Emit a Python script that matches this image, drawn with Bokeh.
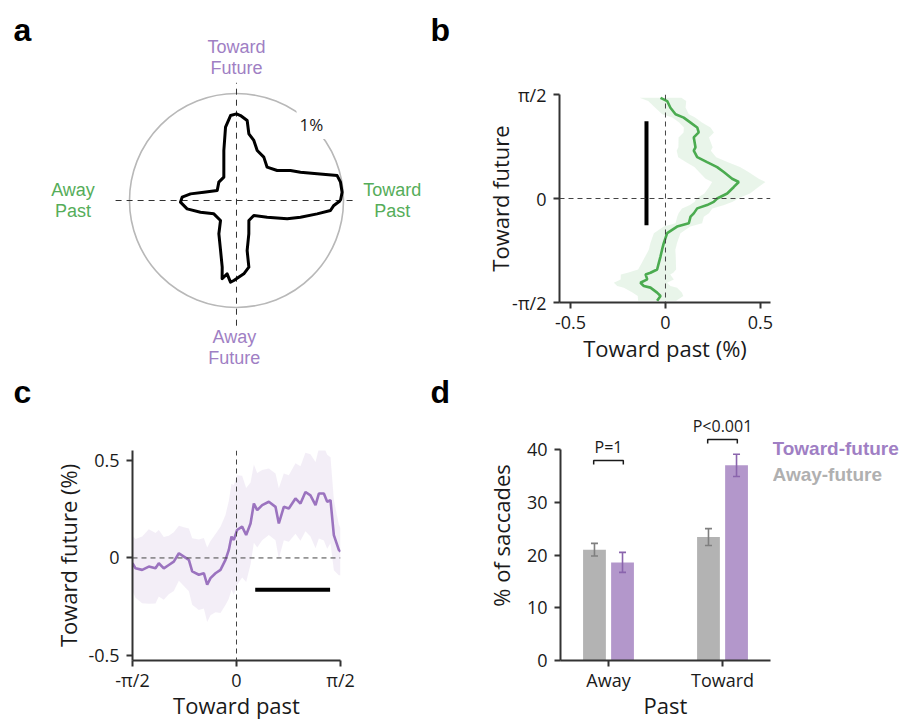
import math
from bokeh.plotting import figure
from bokeh.layouts import column, row
from bokeh.models import Range1d, FixedTicker, ColumnDataSource, Span
from bokeh.core.properties import value
from bokeh.embed import file_html
from bokeh.resources import INLINE

# ---------------- data ----------------
# panel a: polar distribution of saccade directions (% per bin)
rose_angle_deg = [0, 4.5, 10.0, 13.9, 18.3, 23.9, 29.1, 36.4, 47.4, 57.8, 67.5, 73.9, 79.5, 82.4,
                  87.3, 90, 94.0, 98.5, 104.2, 118.5, 133.9, 152.6, 165.7, 171.8, 176.5, 181.7,
                  189.6, 198, 210.5, 231.3, 242.1, 252.3, 257.9, 259.6, 262.7, 265.8, 268.1,
                  275.7, 280.5, 282, 290.3, 301.7, 319.1, 331.5, 340.1, 345.4, 350.6, 353.9, 357.1]
rose_radius_pct = [0.972, 0.99, 0.987, 0.969, 0.794, 0.654, 0.577, 0.472, 0.423, 0.479, 0.506, 0.584,
                   0.634, 0.754, 0.795, 0.81, 0.796, 0.693, 0.482, 0.248, 0.238, 0.203, 0.315, 0.434,
                   0.509, 0.524, 0.468, 0.354, 0.246, 0.239, 0.352, 0.49, 0.637, 0.744, 0.691, 0.765,
                   0.748, 0.689, 0.634, 0.478, 0.332, 0.22, 0.214, 0.326, 0.504, 0.618, 0.764, 0.883, 0.911]
rose_ref_circle_pct = 1.0

# panel b: toward-past difference vs future angle (angle in units of pi/2)
b_angle = [0.968, 0.937, 0.873, 0.81, 0.778, 0.730, 0.683, 0.635, 0.587, 0.492, 0.460, 0.397, 0.349,
           0.302, 0.254, 0.190, 0.159, 0.111, 0.048, 0.0, -0.032, -0.063, -0.095, -0.143, -0.175,
           -0.238, -0.270, -0.333, -0.381, -0.429, -0.492, -0.556, -0.619, -0.683, -0.714, -0.730,
           -0.778, -0.810, -0.841, -0.857, -0.905, -0.937, -0.984]
b_value = [-0.026, 0.009, 0.026, 0.053, 0.096, 0.132, 0.167, 0.175, 0.149, 0.158, 0.149, 0.167, 0.219,
           0.272, 0.307, 0.351, 0.386, 0.360, 0.325, 0.272, 0.254, 0.219, 0.167, 0.149, 0.132,
           0.123, 0.061, 0.009, 0.0, -0.009, -0.018, -0.026, -0.035, -0.044, -0.079, -0.105,
           -0.096, -0.132, -0.114, -0.079, -0.044, -0.026, -0.044]
b_sem = [0.11, 0.10, 0.08, 0.07, 0.06, 0.06, 0.07, 0.08, 0.08, 0.09, 0.09, 0.10, 0.11,
         0.12, 0.13, 0.14, 0.14, 0.13, 0.12, 0.11, 0.10, 0.09, 0.08, 0.08, 0.07,
         0.07, 0.07, 0.07, 0.07, 0.07, 0.07, 0.08, 0.09, 0.10, 0.12, 0.13,
         0.14, 0.14, 0.14, 0.14, 0.13, 0.12, 0.10]
b_sig_x = -0.1
b_sig_span = [-0.257, 0.743]

# panel c: toward-future difference vs past angle (angle in units of pi/2)
c_angle = [-1.0, -0.971, -0.907, -0.843, -0.779, -0.747, -0.699, -0.651, -0.603, -0.554, -0.506, -0.458,
           -0.426, -0.362, -0.314, -0.282, -0.25, -0.202, -0.154, -0.106, -0.074, -0.048, -0.026,
           0.006, 0.054, 0.093, 0.135, 0.167, 0.199, 0.247, 0.311, 0.375, 0.407, 0.455, 0.503,
           0.567, 0.615, 0.663, 0.711, 0.760, 0.792, 0.840, 0.872, 0.904, 0.936, 0.984, 1.0]
c_value = [-0.027, -0.053, -0.061, -0.044, -0.053, -0.027, -0.053, -0.036, -0.019, 0.024, 0.007, -0.010,
           -0.069, -0.086, -0.078, -0.137, -0.103, -0.078, -0.061, -0.010, 0.041, 0.109, 0.092,
           0.143, 0.16, 0.117, 0.176, 0.278, 0.244, 0.270, 0.287, 0.261, 0.176, 0.261, 0.253,
           0.304, 0.278, 0.337, 0.320, 0.270, 0.329, 0.329, 0.287, 0.295, 0.117, 0.041, 0.032]
c_sem = [0.14, 0.15, 0.17, 0.19, 0.18, 0.17, 0.16, 0.15, 0.15, 0.14, 0.15, 0.16,
         0.17, 0.18, 0.18, 0.19, 0.19, 0.20, 0.22, 0.23, 0.25, 0.27, 0.28,
         0.28, 0.26, 0.24, 0.21, 0.20, 0.19, 0.18, 0.17, 0.17, 0.18, 0.17, 0.17,
         0.18, 0.19, 0.20, 0.21, 0.22, 0.23, 0.24, 0.24, 0.22, 0.18, 0.13, 0.12]
c_sig_y = -0.163
c_sig_span = [0.18, 0.90]

# panel d: % of saccades
d_categories = ["Away", "Toward"]
d_away_future = [21.0, 23.4]
d_away_future_err = [1.2, 1.6]
d_toward_future = [18.6, 37.0]
d_toward_future_err = [1.9, 2.1]
d_pvalues = ["P=1", "P<0.001"]
d_yticks = [0, 10, 20, 30, 40]
d_series = ["Toward-future", "Away-future"]

# ---------------- style ----------------
AXIS_FONT = "Open Sans"
LAB_FONT = "Liberation Sans"
PURPLE_TXT = "#a07fc4"
GREEN_TXT = "#55ad59"
GREEN = "#4bab50"
PURPLE = "#9b73bf"
BAR_PURPLE = "#b397cb"
BAR_GRAY = "#b3b3b3"
ERR_PURPLE = "#8a64ad"
ERR_GRAY = "#7f7f7f"
INK = "#1a1a1a"


def base_fig(**kw):
    p = figure(output_backend="svg", toolbar_location=None, frame_align=False, **kw)
    p.grid.visible = False
    p.outline_line_color = None
    p.background_fill_color = "white"
    p.border_fill_color = "white"
    return p


def style_axes(p, xlabel, ylabel, ylab_standoff, xtick_standoff=1, xlab_standoff=-5):
    for ax in p.axis:
        ax.axis_line_color = "#333333"
        ax.axis_line_width = 2
        ax.major_tick_line_color = "#333333"
        ax.major_tick_line_width = 2
        ax.major_tick_out = 6
        ax.major_tick_in = 0
        ax.minor_tick_line_color = None
        ax.major_label_text_font = AXIS_FONT
        ax.major_label_text_font_size = "18px"
        ax.major_label_text_color = INK
        ax.axis_label_text_font = AXIS_FONT
        ax.axis_label_text_font_size = "22px"
        ax.axis_label_text_font_style = "normal"
        ax.axis_label_text_color = INK
    p.xaxis.axis_label = xlabel
    p.yaxis.axis_label = ylabel
    p.xaxis.major_label_standoff = xtick_standoff
    p.yaxis.major_label_standoff = 7
    p.xaxis.axis_label_standoff = xlab_standoff
    p.yaxis.axis_label_standoff = ylab_standoff


# ---------------- panel a ----------------
pa = base_fig(width=460, height=370, x_range=Range1d(-2.2056, 2.0935), y_range=Range1d(-1.5888, 1.8692),
              x_axis_location=None, y_axis_location=None, min_border=0)
pa.circle(x=[0], y=[0], radius=rose_ref_circle_pct, fill_color=None, line_color="#b8b8b8", line_width=1.6)
pa.segment(x0=[-1.13, 0], y0=[0, -1.17], x1=[1.12, 0], y1=[0, 1.10], line_color="#333333",
           line_width=1, line_dash="6 5")
ang = rose_angle_deg + [rose_angle_deg[0]]
rad = rose_radius_pct + [rose_radius_pct[0]]
rx = [r * math.cos(math.radians(a)) for a, r in zip(ang, rad)]
ry = [r * math.sin(math.radians(a)) for a, r in zip(ang, rad)]
pa.line(rx, ry, line_color="black", line_width=3, line_join="round")
pa.text(x=[0, -0.02, -1.528, 1.455], y=[1.332, -1.374, 0.0, 0.0],
        text=["Toward\nFuture", "Away\nFuture", "Away\nPast", "Toward\nPast"],
        text_color=[PURPLE_TXT, PURPLE_TXT, GREEN_TXT, GREEN_TXT],
        text_font=value(LAB_FONT), text_font_size="18px", text_align="center",
        text_baseline="middle", text_line_height=1.05)
pa.text(x=[0.70], y=[0.71], text=["1%"], text_font=value(AXIS_FONT), text_font_size="17px",
        text_align="center", text_baseline="middle", text_color=INK,
        background_fill_color="white", padding=3)
pa.text(x=[-2.084, 1.813], y=[1.598, 1.598], text=["a", "b"], text_font=value(LAB_FONT),
        text_font_size="32px", text_font_style="bold", text_color="black", text_baseline="middle")

# ---------------- panel b ----------------
pb = base_fig(width=450, height=370, x_range=Range1d(-0.558, 0.553), y_range=Range1d(-1, 1),
              min_border_left=99, min_border_right=140, min_border_top=94, min_border_bottom=68)
style_axes(pb, "Toward past (%)", "Toward future", -6, xtick_standoff=7, xlab_standoff=1)
pb.xaxis.ticker = FixedTicker(ticks=[-0.5, 0, 0.5])
pb.xaxis.major_label_overrides = {-0.5: "-0.5", 0: "0", 0.5: "0.5"}
pb.yaxis.ticker = FixedTicker(ticks=[-1, 0, 1])
pb.yaxis.major_label_overrides = {-1: "-π/2", 0: "0", 1: "π/2"}
b_src = ColumnDataSource(dict(y=b_angle, x=b_value,
                              lo=[v - s for v, s in zip(b_value, b_sem)],
                              hi=[v + s for v, s in zip(b_value, b_sem)]))
pb.harea(y="y", x1="lo", x2="hi", source=b_src, fill_color=GREEN, fill_alpha=0.12)
pb.add_layout(Span(location=0, dimension="height", line_color="#444444", line_width=1, line_dash="5 4"))
pb.add_layout(Span(location=0, dimension="width", line_color="#444444", line_width=1, line_dash="5 4"))
pb.line(x="x", y="y", source=b_src, line_color=GREEN, line_width=2.6)
pb.segment(x0=[b_sig_x], y0=[b_sig_span[0]], x1=[b_sig_x], y1=[b_sig_span[1]], line_color="black",
           line_width=4)

# ---------------- letters strip ----------------
ps = base_fig(width=910, height=40, x_range=Range1d(0, 910), y_range=Range1d(0, 40),
              x_axis_location=None, y_axis_location=None, min_border=0)
ps.text(x=[13, 430], y=[19, 19], text=["c", "d"], text_font=value(LAB_FONT), text_font_size="32px",
        text_font_style="bold", text_color="black", text_baseline="middle")

# ---------------- panel c ----------------
pc = base_fig(width=460, height=312, x_range=Range1d(-1, 1), y_range=Range1d(-0.524, 0.549),
              min_border_left=132, min_border_right=120, min_border_top=40, min_border_bottom=61)
style_axes(pc, "Toward past", "Toward future (%)", 2)
pc.xaxis.ticker = FixedTicker(ticks=[-1, 0, 1])
pc.xaxis.major_label_overrides = {-1: "-π/2", 0: "0", 1: "π/2"}
pc.yaxis.ticker = FixedTicker(ticks=[-0.5, 0, 0.5])
pc.yaxis.major_label_overrides = {-0.5: "-0.5", 0: "0", 0.5: "0.5"}
c_src = ColumnDataSource(dict(x=c_angle, y=c_value,
                              lo=[v - s for v, s in zip(c_value, c_sem)],
                              hi=[v + s for v, s in zip(c_value, c_sem)]))
pc.varea(x="x", y1="lo", y2="hi", source=c_src, fill_color=PURPLE, fill_alpha=0.12)
pc.add_layout(Span(location=0, dimension="height", line_color="#444444", line_width=1, line_dash="5 4"))
pc.add_layout(Span(location=0, dimension="width", line_color="#444444", line_width=1, line_dash="5 4"))
pc.line(x="x", y="y", source=c_src, line_color=PURPLE, line_width=2.6)
pc.segment(x0=[c_sig_span[0]], y0=[c_sig_y], x1=[c_sig_span[1]], y1=[c_sig_y], line_color="black",
           line_width=4)

# ---------------- panel d ----------------
pd_ = base_fig(width=312, height=312, x_range=Range1d(-0.421, 1.421), y_range=Range1d(0, 47.4),
               min_border_left=100, min_border_right=2, min_border_top=0, min_border_bottom=61)
style_axes(pd_, "Past", "% of saccades", 8)
pd_.yaxis.bounds = (0, 40)
pd_.xaxis.ticker = FixedTicker(ticks=list(range(len(d_categories))))
pd_.xaxis.major_label_overrides = {i: c for i, c in enumerate(d_categories)}
pd_.yaxis.ticker = FixedTicker(ticks=d_yticks)

off = 0.123
xs, tops, errs, fills, ecols = [], [], [], [], []
for i in range(len(d_categories)):
    xs += [i - off, i + off]
    tops += [d_away_future[i], d_toward_future[i]]
    errs += [d_away_future_err[i], d_toward_future_err[i]]
    fills += [BAR_GRAY, BAR_PURPLE]
    ecols += [ERR_GRAY, ERR_PURPLE]
d_src = ColumnDataSource(dict(x=xs, top=tops, fill=fills, ecol=ecols,
                              lo=[t - e for t, e in zip(tops, errs)],
                              hi=[t + e for t, e in zip(tops, errs)]))
pd_.vbar(x="x", top="top", width=0.2, bottom=0, source=d_src, fill_color="fill", line_color=None)
pd_.segment(x0="x", y0="lo", x1="x", y1="hi", source=d_src, line_color="ecol", line_width=1.6)
pd_.scatter(x="x", y="lo", source=d_src, marker="dash", size=7, line_color="ecol", line_width=1.6)
pd_.scatter(x="x", y="hi", source=d_src, marker="dash", size=7, line_color="ecol", line_width=1.6)

bracket_y = [37.9, 41.9]
bx, by = [], []
for i in range(len(d_categories)):
    y0 = bracket_y[i]
    bx.append([i - 0.13, i - 0.13, i + 0.13, i + 0.13])
    by.append([y0 - 0.75, y0, y0, y0 - 0.75])
pd_.multi_line(xs=bx, ys=by, line_color=INK, line_width=1.5)
pd_.text(x=[0, 1], y=[b + 2.5 for b in bracket_y], text=d_pvalues, text_font=value(AXIS_FONT),
         text_font_size="16px", text_align="center", text_baseline="middle", text_color=INK)

# legend for panel d (shares the y scale of panel d)
pl = base_fig(width=138, height=312, x_range=Range1d(0, 1), y_range=pd_.y_range,
              x_axis_location=None, y_axis_location=None,
              min_border_left=0, min_border_right=0, min_border_top=0, min_border_bottom=61)
pl.text(x=[0.0, 0.0], y=[40.3, 35.3], text=d_series, text_color=[PURPLE_TXT, "#b0b0b0"],
        text_font=value(LAB_FONT), text_font_size="19px", text_font_style="bold",
        text_baseline="middle", text_align="left")

layout = column(row(pa, pb), ps, row(pc, pd_, pl))

open("out.html", "w").write(file_html(layout, INLINE))
